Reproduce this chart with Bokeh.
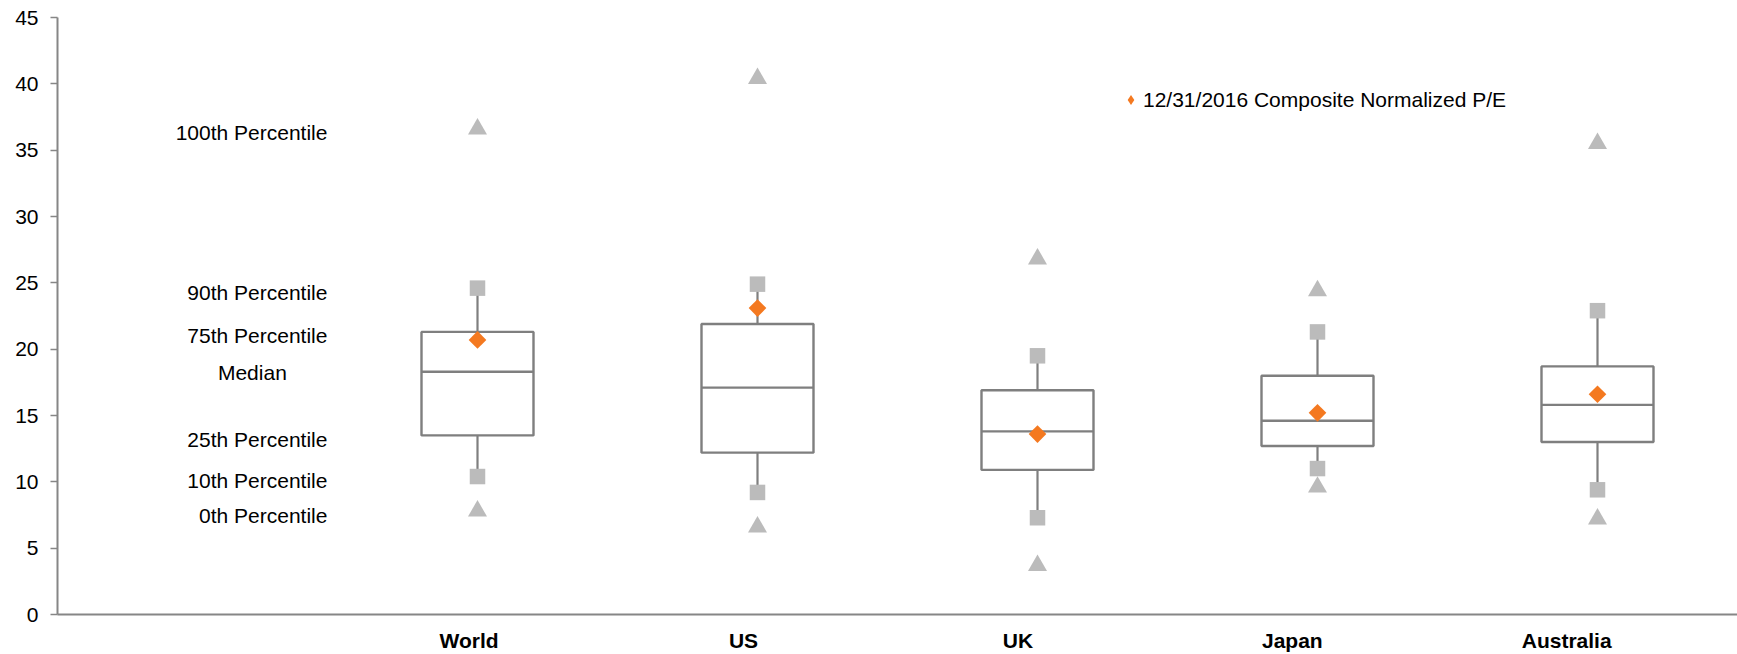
import numpy as np
from bokeh.plotting import figure
from bokeh.models import (Range1d, FixedTicker, Legend, LegendItem,
                          ColumnDataSource, LinearAxis)
from bokeh.core.properties import value
from bokeh.embed import file_html
from bokeh.resources import INLINE

# Composite normalized P/E distribution by region
regions = ["World", "US", "UK", "Japan", "Australia"]
pe_p0 = [7.8, 6.6, 3.7, 9.6, 7.2]
pe_p10 = [10.4, 9.2, 7.3, 11.0, 9.4]
pe_p25 = [13.5, 12.2, 10.9, 12.7, 13.0]
pe_median = [18.3, 17.1, 13.8, 14.6, 15.8]
pe_p75 = [21.3, 21.9, 16.9, 18.0, 18.7]
pe_p90 = [24.6, 24.9, 19.5, 21.3, 22.9]
pe_p100 = [36.6, 40.4, 26.8, 24.4, 35.5]
current_pe = [20.7, 23.1, 13.6, 15.2, 16.6]
current_label = "12/31/2016 Composite Normalized P/E"
percentile_names = ["100th Percentile", "90th Percentile", "75th Percentile",
                    "Median", "25th Percentile", "10th Percentile", "0th Percentile"]
y_ticks = list(range(0, 46, 5))

FONT = "Liberation Sans"
GRAY_LINE = "#7F7F7F"
GRAY_MARK = "#BBBBBB"
ORANGE = "#F47920"
BOX_W = 0.4

# first slot on the left holds the percentile key, regions follow
n_slots = len(regions) + 1
xs = [i + 1.5 for i in range(len(regions))]
half = BOX_W / 2

src = ColumnDataSource(dict(
    x=xs, x0=[x - half for x in xs], x1=[x + half for x in xs],
    p0=pe_p0, p10=pe_p10, p25=pe_p25, med=pe_median,
    p75=pe_p75, p90=pe_p90, p100=pe_p100, cur=current_pe,
))

p = figure(width=1737, height=654, output_backend="svg", toolbar_location=None,
           x_range=Range1d(0, n_slots), y_range=Range1d(0, 45),
           x_axis_location=None,
           min_border_left=57, min_border_right=0, min_border_top=17,
           min_border_bottom=37)
p.outline_line_color = None
p.xgrid.visible = False
p.ygrid.visible = False
p.background_fill_color = "white"
p.border_fill_color = "white"

# whiskers
p.segment(x0="x", x1="x", y0="p75", y1="p90", source=src,
          line_color=GRAY_LINE, line_width=2.2)
p.segment(x0="x", x1="x", y0="p10", y1="p25", source=src,
          line_color=GRAY_LINE, line_width=2.2)
# interquartile boxes
p.vbar(x="x", width=BOX_W, bottom="p25", top="p75", source=src,
       fill_color="white", line_color=GRAY_LINE, line_width=2.4)
# medians
p.segment(x0="x0", x1="x1", y0="med", y1="med", source=src,
          line_color=GRAY_LINE, line_width=2.4)
# 10th / 90th percentile squares
p.scatter(x="x", y="p10", source=src, marker="square", size=15.5,
          fill_color=GRAY_MARK, line_color=None)
p.scatter(x="x", y="p90", source=src, marker="square", size=15.5,
          fill_color=GRAY_MARK, line_color=None)
# 0th / 100th percentile triangles
p.scatter(x="x", y="p0", source=src, marker="triangle", size=19,
          fill_color=GRAY_MARK, line_color=None)
p.scatter(x="x", y="p100", source=src, marker="triangle", size=19,
          fill_color=GRAY_MARK, line_color=None)
# current composite P/E
p.scatter(x="x", y="cur", source=src, marker="square", angle=np.pi / 4,
          size=12.5, fill_color=ORANGE, line_color=None)

# legend swatch (zero size on the plot, drawn only by the legend)
swatch = p.scatter(x="x", y="cur", source=src, marker="diamond", size=0,
                   fill_color=ORANGE, line_color=None)
legend = Legend(items=[LegendItem(label=current_label, renderers=[swatch])],
                location=(1061, 502), orientation="vertical",
                glyph_width=25, glyph_height=25, label_standoff=0,
                padding=0, spacing=0, margin=0,
                border_line_color=None, background_fill_alpha=0,
                label_text_font=FONT, label_text_font_size="21px",
                label_text_color="#000000")
p.add_layout(legend, "center")

# percentile key, anchored at the World distribution
world_vals = [pe_p100[0], pe_p90[0], pe_p75[0], pe_median[0],
              pe_p25[0], pe_p10[0], pe_p0[0]]
key_src = ColumnDataSource(dict(
    y=[v for n, v in zip(percentile_names, world_vals) if n != "Median"],
    t=[n for n in percentile_names if n != "Median"],
))
p.text(x=0.964, y="y", text="t", source=key_src, text_align="right",
       text_baseline="middle", y_offset=4, text_font=value(FONT),
       text_font_size=value("21px"), text_color="#000000")
med_src = ColumnDataSource(dict(
    y=[v for n, v in zip(percentile_names, world_vals) if n == "Median"],
    t=[n for n in percentile_names if n == "Median"],
))
p.text(x=0.696, y="y", text="t", source=med_src, text_align="center",
       text_baseline="middle", y_offset=1, text_font=value(FONT),
       text_font_size=value("21px"), text_color="#000000")

# y axis
p.yaxis.ticker = FixedTicker(ticks=y_ticks)
p.yaxis.axis_line_color = "#868686"
p.yaxis.axis_line_width = 2
p.yaxis.major_tick_line_color = "#868686"
p.yaxis.major_tick_line_width = 1.5
p.yaxis.major_tick_out = 7
p.yaxis.major_tick_in = 0
p.yaxis.minor_tick_line_color = None
p.yaxis.major_label_standoff = 12
p.yaxis.major_label_text_font = FONT
p.yaxis.major_label_text_font_size = "21px"
p.yaxis.major_label_text_color = "#000000"

# category axis: its labels sit on a slightly tighter pitch than the boxes
p.extra_x_ranges = {"categories": Range1d(0, n_slots * 1.0204)}
xaxis = LinearAxis(x_range_name="categories",
                   ticker=FixedTicker(ticks=xs),
                   major_label_overrides={x: r for x, r in zip(xs, regions)})
xaxis.axis_line_color = "#868686"
xaxis.axis_line_width = 2
xaxis.major_tick_line_color = None
xaxis.minor_tick_line_color = None
xaxis.major_tick_out = 0
xaxis.major_tick_in = 0
xaxis.major_label_standoff = 14
xaxis.major_label_text_font = FONT
xaxis.major_label_text_font_size = "21px"
xaxis.major_label_text_font_style = "bold"
xaxis.major_label_text_color = "#000000"
p.add_layout(xaxis, "below")

open("out.html", "w").write(file_html(p, INLINE))
